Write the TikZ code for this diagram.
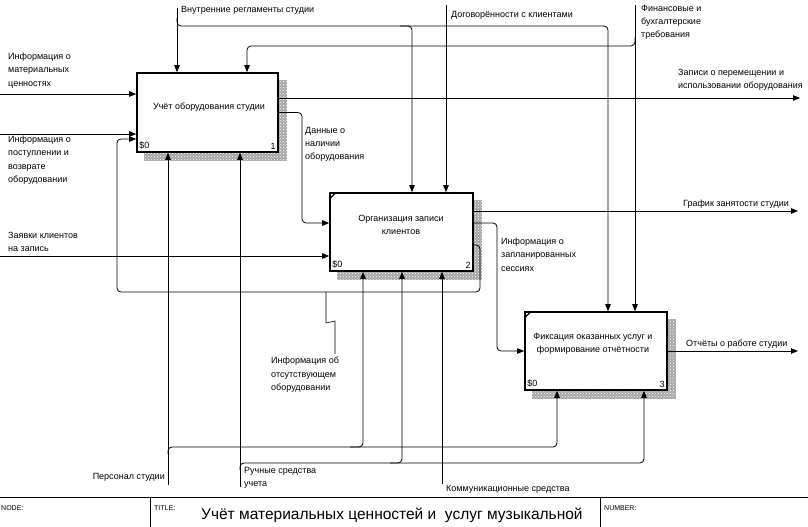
\documentclass[tikz,border=0pt]{standalone}
\usepackage{fontspec}
\setmainfont{Liberation Sans}
\usetikzlibrary{arrows.meta,patterns,backgrounds}

\begin{document}
\begin{tikzpicture}[x=1pt,y=-1pt,
    box/.style={draw,line width=1.6pt,fill=white,inner sep=0pt,
                minimum width=142pt,minimum height=78pt},
    shade/.style={fill=gray!70,postaction={pattern=crosshatch dots,pattern color=white}},
    flow/.style={line width=0.8pt,rounded corners=4pt,
                 -{Triangle[length=7pt,width=5.5pt]}},
    lbl/.style={font=\fontsize{9}{13.2}\selectfont,align=left,inner sep=0pt}]

  % Page
  \useasboundingbox (0,0) rectangle (808,527);

  % Activity boxes
  \node[box,minimum width=141pt,minimum height=79pt] (b1) at (207.5,112.5) {};
  \node[box,minimum width=143pt] (b2) at (401.5,232) {};
  \node[box] (b3) at (596,351) {};

  \begin{scope}[on background layer]
    \foreach \b in {b1,b2,b3}
      \fill[shade] ([shift={(8pt,-8pt)}]\b.south west)
                   rectangle ([shift={(8pt,-8pt)}]\b.north east);
  \end{scope}

  \node[lbl,align=center] (t1) at (209,107) {Учёт оборудования студии};
  \node[lbl,align=center] (t2) at (401,225) {Организация записи\\клиентов};
  \node[lbl,align=center] (t3) at (593,344) {Фиксация оказанных услуг и\\формирование отчётности};

  \foreach \b/\n in {b1/1,b2/2,b3/3}{
    \node[lbl,anchor=south west] (\b s) at ([shift={(3pt,3pt)}]\b.south west) {\$0};
    \node[lbl,anchor=south east] (\b n) at ([shift={(-3pt,3pt)}]\b.south east) {\n};
  }
  \foreach \b in {b2,b3}
    \draw[line width=1.2pt] ([yshift=-7pt]\b.north west) -- ([xshift=7pt]\b.north west);

  % Free ends
  \coordinate (i1) at (0,94);
  \coordinate (i2) at (0,134);
  \coordinate (i3) at (0,256);
  \coordinate (o1) at (800,98);
  \coordinate (o2) at (798,211);
  \coordinate (o3) at (798,351);
  \coordinate (c1) at (177,8);
  \coordinate (c2) at (446,5);
  \coordinate (c3) at (635,5);
  \coordinate (m1) at (168,485);
  \coordinate (m2) at (240,487);
  \coordinate (m3) at (442,484);

  % Inputs
  \draw[flow] (i1) -- (i1 -| b1.west);
  \draw[flow] (i2) -- (i2 -| b1.west);
  \draw[flow] (i3) -- (i3 -| b2.west);
  \draw[flow] (b1.east) -| (302,223) -- ([yshift=9pt]b2.west);
  \draw[flow] ([yshift=9pt]b2.east) -| (497,351) -- (b3.west);
  \draw[flow] ([yshift=-13pt]b2.east) -| (480,292) -| (117,139) -- ([yshift=-26.5pt]b1.west);

  % Outputs
  \draw[flow] (o1 -| b1.east) -- (o1);
  \draw[flow] (o2 -| b2.east) -- (o2);
  \draw[flow] (b3.east) -- (o3);

  % Controls
  \draw[flow] (c1) -- (c1 |- b1.north);
  \draw[flow] (c1 |- 0,18) |- (608,26) -- ([xshift=12pt]b3.north);
  \draw[flow] (400,26) -| ([xshift=10.5pt]b2.north);
  \draw[flow] (c2) -- (c2 |- b2.north);
  \draw[flow] (c3) -- (c3 |- b3.north);
  \draw[flow] (c3 |- 0,38) |- (247,46) -- ([xshift=39.5pt]b1.north);

  % Mechanisms
  \draw[flow] (m1) -- (m1 |- b1.south);
  \draw[flow] (m1 |- 0,454) |- (557,447) -- ([xshift=-39pt]b3.south);
  \draw[flow] (350,447) -| ([xshift=-38.5pt]b2.south);
  \draw[flow] (m2) -- (m2 |- b1.south);
  \draw[flow] (m2 |- 0,470) |- (644,463) -- ([xshift=48pt]b3.south);
  \draw[flow] (390,463) -| ([xshift=0.5pt]b2.south);
  \draw[flow] (m3) -- (m3 |- b2.south);

  % Arrow labels
  \node[lbl,anchor=west] (lc1) at (181,10) {Внутренние регламенты студии};
  \node[lbl,anchor=west] (lc2) at (451,15) {Договорённости с клиентами};
  \node[lbl,anchor=north west] (lc3) at (641,5) {Финансовые и\\бухгалтерские\\требования};
  \node[lbl,anchor=north west] (li1) at (8,53) {Информация о\\материальных\\ценностях};
  \node[lbl,anchor=north west] (li2) at (8,136) {Информация о\\поступлении и\\возврате\\оборудовании};
  \node[lbl,anchor=north west] (li3) at (8,232) {Заявки клиентов\\на запись};
  \node[lbl,anchor=north west] (ld) at (305,127) {Данные о\\наличии\\оборудования};
  \node[lbl,anchor=north west] (lo1) at (678,69) {Записи о перемещении и\\использовании оборудования};
  \node[lbl,anchor=south west] (lo2) at (683,209) {График занятости студии};
  \node[lbl,anchor=north west] (ls) at (501,238) {Информация о\\запланированных\\сессиях};
  \node[lbl,anchor=south west] (lo3) at (686,349) {Отчёты о работе студии};
  \node[lbl,anchor=north west] (lf) at (271,357) {Информация об\\отсутствующем\\оборудовании};
  \draw[line width=0.6pt] (326,292) -- (326,323) -- (335,321) -- (335,354);
  \node[lbl,anchor=east] (lm1) at (165,477) {Персонал студии};
  \node[lbl,anchor=north west] (lm2) at (244,467) {Ручные средства\\учета};
  \node[lbl,anchor=west] (lm3) at (446,489) {Коммуникационные средства};

  % Title bar
  \draw[line width=0.8pt] (0,497) -- (808,497);
  \draw[line width=0.8pt] (150,497) -- (150,527) (600,497) -- (600,527);
  \node[font=\fontsize{7}{8}\selectfont,anchor=west,inner sep=0pt] (node) at (1,508) {NODE:};
  \node[font=\fontsize{7}{8}\selectfont,anchor=west,inner sep=0pt] (title) at (154,508) {TITLE:};
  \node[font=\fontsize{7}{8}\selectfont,anchor=west,inner sep=0pt] (number) at (604,508) {NUMBER:};
  \node[font=\fontsize{15.5}{18}\selectfont,anchor=west,inner sep=0pt] (name) at (201,515)
    {Учёт материальных ценностей и\ \ услуг музыкальной};
\end{tikzpicture}
\end{document}
